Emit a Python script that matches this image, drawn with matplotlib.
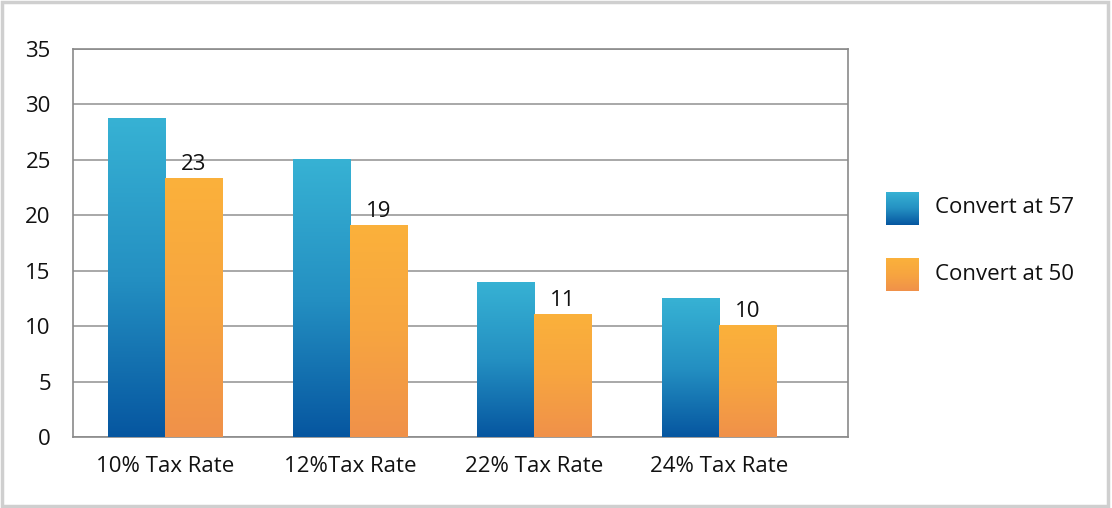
import numpy as np
import matplotlib.pyplot as plt
from matplotlib.colors import LinearSegmentedColormap
from matplotlib.patches import Rectangle

plt.rcParams['font.family'] = ['Open Sans', 'DejaVu Sans']

categories = ['10% Tax Rate', '12%Tax Rate', '22% Tax Rate', '24% Tax Rate']
convert_57 = [28.8, 25.1, 14.0, 12.5]
convert_50 = [23.4, 19.1, 11.1, 10.1]
labels_50 = ['23', '19', '11', '10']

blue_cmap = LinearSegmentedColormap.from_list('b', ['#0656a0', '#2490c2', '#37b2d4'])
orange_cmap = LinearSegmentedColormap.from_list('o', ['#f0914a', '#f7a540', '#fbb13b'])

fig = plt.figure(figsize=(11.12, 5.08), dpi=100)
ax = fig.add_axes([73 / 1112, 71 / 508, 775 / 1112, 388 / 508])

x = np.arange(len(categories))
w = 0.31
grad = np.linspace(0, 1, 256).reshape(-1, 1)


def gradient_bars(xs, vals, cmap):
    bars = ax.bar(xs, vals, w, color='none', edgecolor='none', zorder=3)
    for b in bars:
        x0, y0 = b.get_x(), b.get_y()
        im = ax.imshow(grad, cmap=cmap, origin='lower', aspect='auto',
                       extent=[x0, x0 + b.get_width(), y0, y0 + b.get_height()],
                       zorder=3)
        im.set_clip_path(b)
    return bars


gradient_bars(x - w / 2, convert_57, blue_cmap)
bars50 = gradient_bars(x + w / 2, convert_50, orange_cmap)
for b, t in zip(bars50, labels_50):
    ax.text(b.get_x() + b.get_width() / 2, b.get_height() + 0.25, t,
            ha='center', va='bottom', fontsize=16, color='#111111', zorder=4)

ax.set_xlim(-0.50, 3.70)
ax.set_ylim(0, 35)
ax.set_yticks(range(0, 36, 5))
ax.set_xticks(x)
ax.set_xticklabels(categories)
ax.tick_params(axis='both', length=0, labelsize=16, colors='#111111')
ax.tick_params(axis='y', pad=16)
ax.tick_params(axis='x', pad=14)
ax.grid(axis='y', color='#9a9a9a', linewidth=1.2, zorder=1)
for s in ax.spines.values():
    s.set_color('#8a8a8a')
    s.set_linewidth(1.2)

# legend
for i, (cm, name) in enumerate([(blue_cmap, 'Convert at 57'), (orange_cmap, 'Convert at 50')]):
    y0 = 1 - (192 + i * 66 + 33) / 508
    lax = fig.add_axes([886 / 1112, y0, 33 / 1112, 33 / 508])
    lax.imshow(grad, cmap=cm, origin='lower', aspect='auto')
    lax.axis('off')
    fig.text(935 / 1112, 1 - (208 + i * 66) / 508, name, fontsize=16,
             va='center', ha='left', color='#111111')

fig.patches.append(Rectangle((0.002, 0.004), 0.994, 0.992, transform=fig.transFigure,
                             fill=False, edgecolor='#cfcfcf', linewidth=2.5))

fig.savefig('out.png', dpi=100)
